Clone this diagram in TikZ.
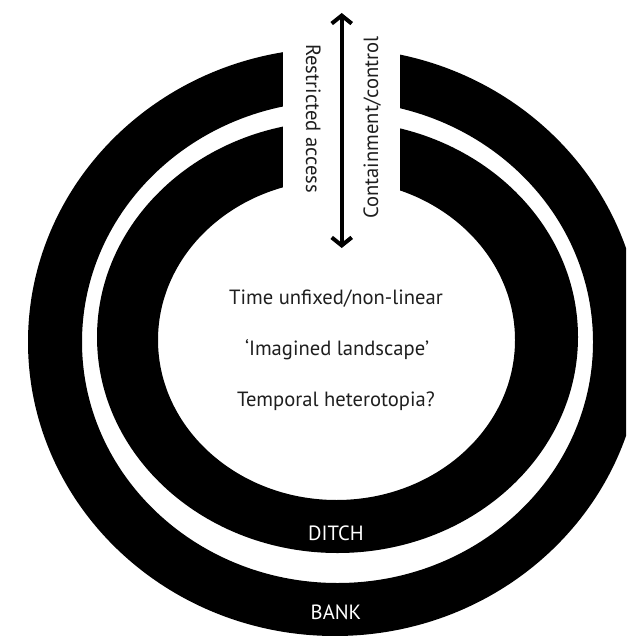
\documentclass[tikz,border=0pt]{standalone}
\usepackage{fontspec}
\setmainfont{PT Sans}
\usetikzlibrary{arrows.meta}
\begin{document}
\begin{tikzpicture}[x=1pt,y=-1pt,
  lbl/.style={font=\fontsize{20.6}{24}\selectfont, inner sep=0pt, anchor=base, text=black!88},
  wlbl/.style={lbl, text=white},
  ringfill/.style={fill=black, even odd rule},
  dblarrow/.style={line width=4pt, {Straight Barb[length=8pt,width=20pt]}-{Straight Barb[length=8pt,width=20pt]}}]
\useasboundingbox (0,0) rectangle (626,636);
\clip (0,0) rectangle (626,636);
\fill[white] (0,0) rectangle (626,636);
% bank (outer ring)
\fill[ringfill] (335,342) ellipse [x radius=307, y radius=294]
                (337.5,342) ellipse [x radius=255.5, y radius=241];
% ditch (inner ring)
\fill[ringfill] (337.5,337) ellipse [x radius=240.5, y radius=216]
                (336.5,340) ellipse [x radius=178.5, y radius=160];
% entrance gap
\fill[white] (283,0) rectangle (400,250);
% arrow
\coordinate (top) at (341.7,13);
\coordinate (bot) at (341.7,248);
\draw[dblarrow] (top) -- (bot);
\node[lbl, rotate=-90] (ra) at (306,118.5) {Restricted access};
\node[lbl, rotate=90] (cc) at (378,127.5) {Containment/control};
% interior texts
\node[lbl] (t1) at (336,304.5) {Time unfixed/non-linear};
\node[lbl] (t2) at (337,355) {‘Imagined landscape’};
\node[lbl] (t3) at (336,406.5) {Temporal heterotopia?};
% ring labels
\node[wlbl] (ditch) at (336,540) {DITCH};
\node[wlbl] (bank) at (336,619) {BANK};
\end{tikzpicture}
\end{document}
